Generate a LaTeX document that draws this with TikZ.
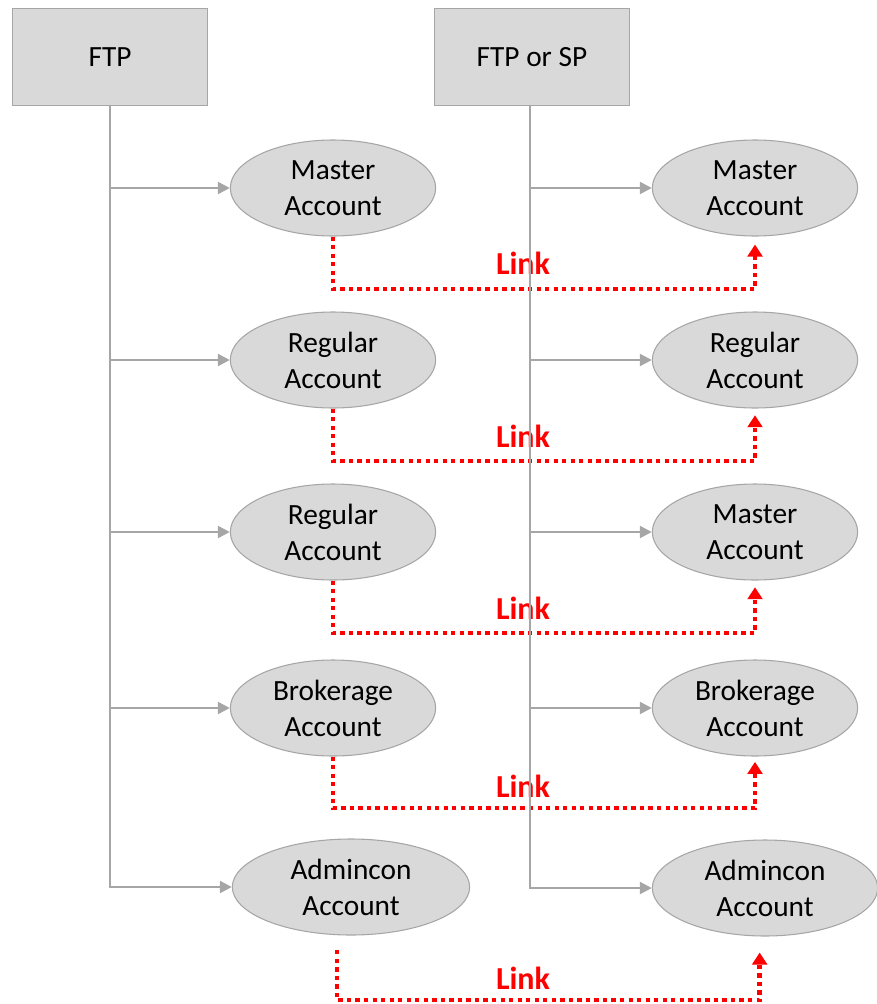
\documentclass[tikz,border=0pt]{standalone}
\usepackage{fontspec}
\setmainfont{Carlito}
\usetikzlibrary{arrows.meta,shapes.geometric,positioning}
\definecolor{boxgray}{HTML}{D9D9D9}
\definecolor{edgegray}{HTML}{A6A6A6}
\tikzset{boxstyle/.style = {rectangle, fill = boxgray, draw = edgegray, line width = 1.2pt, minimum width = 146pt, minimum height = 73pt, font = \fontsize{22}{27}\selectfont},
	acctstyle/.style = {ellipse, fill = boxgray, draw = edgegray, line width = 0.8pt, minimum width = 154pt, minimum height = 72pt, inner sep = 0pt, align = center, font = \fontsize{22}{27}\selectfont},
	feed/.style = {-{Triangle[length=9pt, width=9pt]}, draw = edgegray, line width = 1.8pt},
	linkstyle/.style = {-{Triangle[length=9pt, width=11pt]}, draw = red, line width = 3.4pt, dash pattern = on 3.2pt off 3.2pt},
	linklabel/.style = {text = red, font = \fontsize{24}{28}\selectfont\bfseries, inner sep = 0pt}}

\begin{document}
\begin{tikzpicture}[x = 0.75pt, y = -0.75pt]
 \useasboundingbox (0,0) rectangle (877,1004);

 \node (ftp) at (110,57) [boxstyle] {FTP};
 \node (ftpsp) at (532,57) [boxstyle] {FTP or SP};

 \node (lacc1) at (333,188) [acctstyle] {Master\\Account};
 \node (lacc2) at (333,360) [acctstyle] {Regular\\Account};
 \node (lacc3) at (333,532) [acctstyle] {Regular\\Account};
 \node (lacc4) at (333,708) [acctstyle] {Brokerage\\Account};
 \node (lacc5) at (351,887) [acctstyle, minimum width = 178pt] {Admincon\\Account};

 \node (racc1) at (755,188) [acctstyle] {Master\\Account};
 \node (racc2) at (755,360) [acctstyle] {Regular\\Account};
 \node (racc3) at (755,532) [acctstyle] {Master\\Account};
 \node (racc4) at (755,708) [acctstyle] {Brokerage\\Account};
 \node (racc5) at (765,888) [acctstyle, minimum width = 169pt] {Admincon\\Account};

 % red links between the two sides
 \coordinate (bend1) at (333,289);
 \coordinate (bend2) at (333,461);
 \coordinate (bend3) at (333,633);
 \coordinate (bend4) at (333,808);
 \coordinate (bend5) at (337,1000);
 \node (link1) at (523,263) [linklabel] {Link};
 \node (link2) at (523,436) [linklabel] {Link};
 \node (link3) at (523,608) [linklabel] {Link};
 \node (link4) at (523,786) [linklabel] {Link};
 \node (link5) at (523,978) [linklabel] {Link};

 \draw [linkstyle, shorten >= 6pt] (lacc1.south) -- (bend1) -| (racc1.south);
 \draw [linkstyle, shorten >= 5pt] (lacc2.south) -- (bend2) -| (racc2.south);
 \draw [linkstyle, shorten >= 5pt] (lacc3.south) -- (bend3) -| (racc3.south);
 \draw [linkstyle, shorten >= 4pt] (lacc4.south) -- (bend4) -| (racc4.south);
 \draw [linkstyle, shorten <= 11pt, shorten >= 12pt] (bend5 |- lacc5.south) -- (bend5) -| ([xshift=-4pt]racc5.south);

 % feeds from the two sources
 \draw [feed] (ftp.south) |- (lacc1.west);
 \draw [feed] (ftp.south) |- (lacc2.west);
 \draw [feed] (ftp.south) |- (lacc3.west);
 \draw [feed] (ftp.south) |- (lacc4.west);
 \draw [feed] (ftp.south) |- (lacc5.west);
 \draw [feed] ([xshift=-1.5pt]ftpsp.south) |- (racc1.west);
 \draw [feed] ([xshift=-1.5pt]ftpsp.south) |- (racc2.west);
 \draw [feed] ([xshift=-1.5pt]ftpsp.south) |- (racc3.west);
 \draw [feed] ([xshift=-1.5pt]ftpsp.south) |- (racc4.west);
 \draw [feed] ([xshift=-1.5pt]ftpsp.south) |- (racc5.west);

\end{tikzpicture}
\end{document}
